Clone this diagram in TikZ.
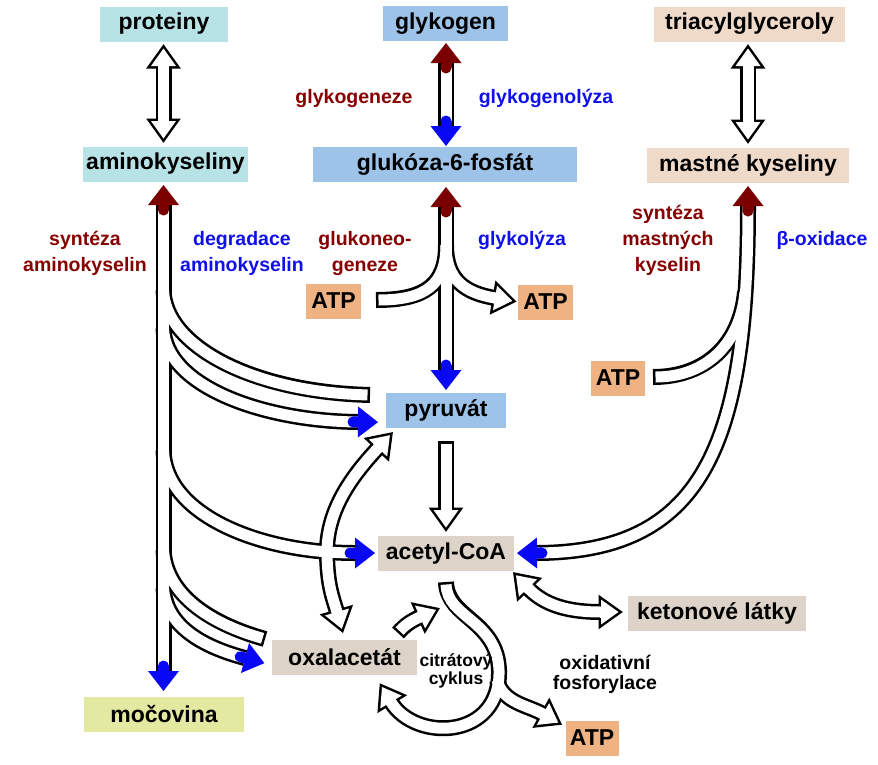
\documentclass[tikz,border=0pt]{standalone}
\usepackage{fontspec}
\setmainfont{Liberation Sans}
\usetikzlibrary{decorations.markings}
\definecolor{cyanb}{HTML}{B7E2E6}
\definecolor{blueb}{HTML}{9DC3E8}
\definecolor{peach}{HTML}{EFD9C9}
\definecolor{beige}{HTML}{DDD3C8}
\definecolor{atpor}{HTML}{EFB283}
\definecolor{urea}{HTML}{E3E9A0}
\definecolor{dred}{HTML}{870000}
\definecolor{dblue}{HTML}{1010E8}
\definecolor{hred}{HTML}{7A0000}
\definecolor{hblue}{HTML}{0808F5}
\tikzset{
  box/.style={inner sep=0pt, minimum height=35pt, font=\fontsize{23}{27}\selectfont\bfseries, text=black},
  lbl/.style={inner sep=0pt, align=center, font=\fontsize{19.5}{26}\selectfont\bfseries},
  sml/.style={inner sep=0pt, align=center, font=\fontsize{17.5}{18.5}\selectfont\bfseries},
  oxl/.style={inner sep=0pt, align=center, font=\fontsize{19.5}{20}\selectfont\bfseries},
  bk/.style={line width=16pt, draw=black},
  wh/.style={line width=11pt, draw=white},
  % heads: path starts at head base and runs back along the shaft
  hk/.style={postaction={decorate, decoration={markings, mark=at position 0 with {\filldraw[black, line width=5pt] (0,-12.5) -- (-17.5,0) -- (0,12.5) -- cycle;}}}},
  hw/.style={postaction={decorate, decoration={markings, mark=at position 0 with {\fill[white] (0,-12.5) -- (-17.5,0) -- (0,12.5) -- cycle; \fill[white] (-1,-5.5) rectangle (1,5.5);}}}},
  hc/.style={postaction={decorate, decoration={markings, mark=at position 0 with {\fill[#1] (0,-15.5) -- (-20,0) -- (0,15.5) -- cycle; \fill[#1] (-0.5,-5.5) rectangle (5,5.5); \fill[#1] (5,0) circle[radius=5.5pt];}}}},
}
\begin{document}
\begin{tikzpicture}[x=1pt,y=-1pt]
\fill[white] (0,0) rectangle (878,764);
\useasboundingbox (0,0) rectangle (878,764);

% shafts
\def\pProt{(163.5,66) -- (163.5,121)}
\def\pTri{(748,66) -- (748,122)}
\def\pGly{(446,63) -- (446,126)}
\def\pGm{(446,207) -- (446,370)}
\def\pGl{(376,300) .. controls (425,300) and (446,285) .. (446,245)}
\def\pGr{(446,245) .. controls (446,280) and (465,293) .. (495,298)}
\def\pPA{(446,441) -- (446,510)}
\def\pAm{(163.5,205) -- (163.5,671)}
\def\pPone{(163.5,290) .. controls (165,345) and (250,392) .. (370,395)}
\def\pPtwo{(163.5,328) .. controls (165,385) and (260,421) .. (358,422)}
\def\pAC{(163.5,450) .. controls (165,515) and (260,553) .. (355,553)}
\def\pOone{(163.5,550) .. controls (166,592) and (205,622) .. (265,639)}
\def\pOtwo{(163.5,588) .. controls (166,625) and (200,646) .. (245,658)}
\def\pOP{(378,448) .. controls (350,478) and (328,510) .. (327,550) .. controls (327,585) and (333,598) .. (337,612)}
\def\pFat{(748,206) .. controls (748,450) and (700,552) .. (537,553)}
\def\pFatATP{(653,377) .. controls (705,377) and (740,345) .. (745,292)}
\def\pKet{(528,588) .. controls (545,606) and (570,612) .. (601,612)}
\def\pCyc{(446,582) .. controls (447,618) and (497,620) .. (499,670) .. controls (501,740) and (415,742) .. (391,702)}
\def\pCatp{(497,680) .. controls (503,703) and (527,705) .. (543,714)}
\def\pSmall{(398,633) .. controls (405,625) and (411,621) .. (420,617)}

% hollow heads: base -- point back along shaft
\def\hA{(163.5,66) -- (163.5,121)}
\def\hB{(163.5,121) -- (163.5,66)}
\def\hC{(748,66) -- (748,122)}
\def\hD{(748,122) -- (748,66)}
\def\hE{(495,298) -- (465,293)}
\def\hF{(446,510) -- (446,441)}
\def\hG{(378,448) -- (350,478)}
\def\hH{(337,612) -- (333,598)}
\def\hI{(528,588) -- (545,606)}
\def\hJ{(601,612) -- (570,612)}
\def\hK{(391,702) -- (415,742)}
\def\hL{(543,714) -- (527,705)}
\def\hM{(420,617) -- (411,621)}

% pass 1: black outlines
\foreach \p in {\pProt,\pTri,\pGly,\pGm,\pGl,\pGr,\pPA,\pAm,\pPone,\pPtwo,\pAC,\pOone,\pOtwo,\pOP,\pFat,\pFatATP,\pKet,\pCyc,\pCatp,\pSmall}
  {\draw[bk] \p;}
\foreach \h in {\hA,\hB,\hC,\hD,\hE,\hF,\hG,\hH,\hI,\hJ,\hK,\hL,\hM}
  {\path[hk] \h;}

% pass 2: white interiors
\draw[wh] \pProt;
\draw[wh] \pTri;
\draw[wh] \pGly;
\draw[wh] \pGm;
\draw[wh,shorten <=2.5pt] \pGl;
\draw[wh] \pGr;
\draw[wh,shorten <=2.5pt] \pPA;
\draw[wh] \pAm;
\draw[wh,shorten >=2.5pt] \pPone;
\draw[wh] \pPtwo;
\draw[wh] \pAC;
\draw[wh,shorten >=2.5pt] \pOone;
\draw[wh] \pOtwo;
\draw[wh] \pOP;
\draw[wh] \pFat;
\draw[wh,shorten <=2.5pt] \pFatATP;
\draw[wh] \pKet;
\draw[wh,shorten <=2.5pt] \pCyc;
\draw[wh] \pCatp;
\draw[wh,shorten <=2.5pt] \pSmall;
\foreach \h in {\hA,\hB,\hC,\hD,\hE,\hF,\hG,\hH,\hI,\hJ,\hK,\hL,\hM}
  {\path[hw] \h;}

% pass 3: coloured heads
\path[hc=hred] (446,63) -- (446,126);
\path[hc=hblue] (446,126) -- (446,63);
\path[hc=hred] (446,207) -- (446,370);
\path[hc=hblue] (446,370) -- (446,207);
\path[hc=hred] (163.5,205) -- (163.5,671);
\path[hc=hblue] (163.5,671) -- (163.5,205);
\path[hc=hblue] (358,422) -- (260,421);
\path[hc=hblue] (355,553) -- (260,553);
\path[hc=hblue] (245,658) -- (200,646);
\path[hc=hred] (748,206) -- (748,450);
\path[hc=hblue] (537,553) -- (700,552);

% boxes
\node[box, fill=cyanb, minimum width=128pt] (prot) at (164,24) {proteiny};
\node[box, fill=blueb, minimum width=125pt] (glyk) at (445.5,23.5) {glykogen};
\node[box, fill=peach, minimum width=191pt] (tri) at (749.5,24) {triacylglyceroly};
\node[box, fill=cyanb, minimum width=165pt] (amk) at (165.5,164) {aminokyseliny};
\node[box, fill=blueb, minimum width=264pt] (g6p) at (445,164) {glukóza-6-fosfát};
\node[box, fill=peach, minimum width=202pt] (mk) at (748,165) {mastné kyseliny};
\node[box, fill=atpor, minimum width=55pt] (atpL) at (333.5,301) {ATP};
\node[box, fill=atpor, minimum width=55pt] (atpR) at (545.5,302) {ATP};
\node[box, fill=atpor, minimum width=54pt] (atpF) at (618,378) {ATP};
\node[box, fill=blueb, minimum width=120pt] (pyr) at (446,410) {pyruvát};
\node[box, fill=beige, minimum width=136pt] (acoa) at (446,553.5) {acetyl-CoA};
\node[box, fill=beige, minimum width=178pt] (ket) at (717,613) {ketonové látky};
\node[box, fill=beige, minimum width=145pt] (oxa) at (344.5,657) {oxalacetát};
\node[box, fill=urea, minimum width=160pt] (moc) at (164,714) {močovina};
\node[box, fill=atpor, minimum width=53pt] (atpB) at (592,738) {ATP};

% labels
\node[lbl, text=dred] (lglg) at (354,98) {glykogeneze};
\node[lbl, text=dblue] (lgll) at (546,98) {glykogenolýza};
\node[lbl, text=dred] (lsa) at (85,253) {syntéza\\aminokyselin};
\node[lbl, text=dblue] (lda) at (242,253) {degradace\\aminokyselin};
\node[lbl, text=dred] (lgng) at (365,253) {glukoneo-\\geneze};
\node[lbl, text=dblue] (lgly) at (522,240) {glykolýza};
\node[lbl, text=dred] (lsm) at (668,240) {syntéza\\mastných\\kyselin};
\node[lbl, text=dblue] (lbo) at (822,240) {β-oxidace};
\node[sml] (lcit) at (456,671) {citrátový\\cyklus};
\node[oxl] (lox) at (605,674) {oxidativní\\fosforylace};
\end{tikzpicture}
\end{document}
